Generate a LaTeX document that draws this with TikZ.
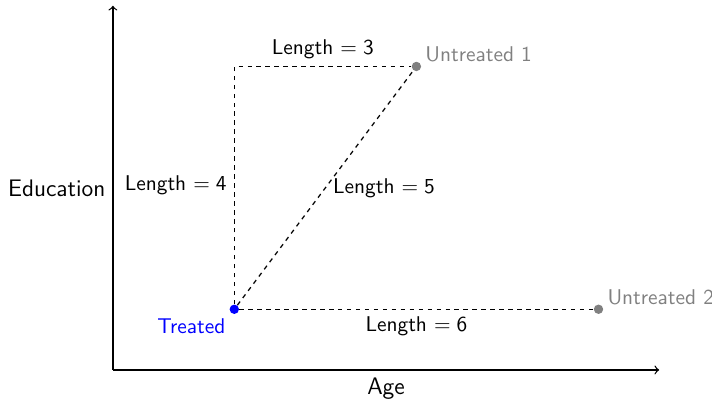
\documentclass[tikz,border=0pt]{standalone}
\usetikzlibrary{positioning}
\begin{document}
\begin{tikzpicture}[font=\sffamily,
  axis/.style={->,line width=0.6pt},
  conn/.style={line width=0.6pt,dash pattern=on 2.1pt off 2.1pt},
  axlab/.style={font=\sffamily\fontsize{11.2}{13}\selectfont},
  dot/.style={circle,fill,inner sep=0pt,minimum size=4.4pt}]
\useasboundingbox (-1.86,-0.478) rectangle (9.87,6.095);
\coordinate (O) at (0,0);
\coordinate (X) at (9,0);
\coordinate (Y) at (0,6);
\draw[axis] (O) -- (X);
\draw[axis] (O) -- (Y);
\node[axlab,anchor=east] (ylab) at (0,3) {Education};
\node[axlab,anchor=north] (xlab) at (4.5,0) {Age};
\node[dot,blue] (T) at (2,1) {};
\node[dot,gray] (U1) at (5,5) {};
\node[dot,gray] (U2) at (8,1) {};
\coordinate (C) at (2,5);
\node[blue,below left=-1pt and -1pt of T] (Tl) {Treated};
\node[gray,above right=-3pt and -1pt of U1] (U1l) {Untreated 1};
\node[gray,above right=-3pt and -1pt of U2] (U2l) {Untreated 2};
\draw[conn] (T) -- node[left] (l4) {Length $=\mathsf{4}$} (C) -- node[above] (l3) {Length $=\mathsf{3}$} (U1);
\draw[conn] (T) -- node[right] (l5) {Length $=\mathsf{5}$} (U1);
\draw[conn] (T) -- node[below] (l6) {Length $=\mathsf{6}$} (U2);
\end{tikzpicture}
\end{document}
